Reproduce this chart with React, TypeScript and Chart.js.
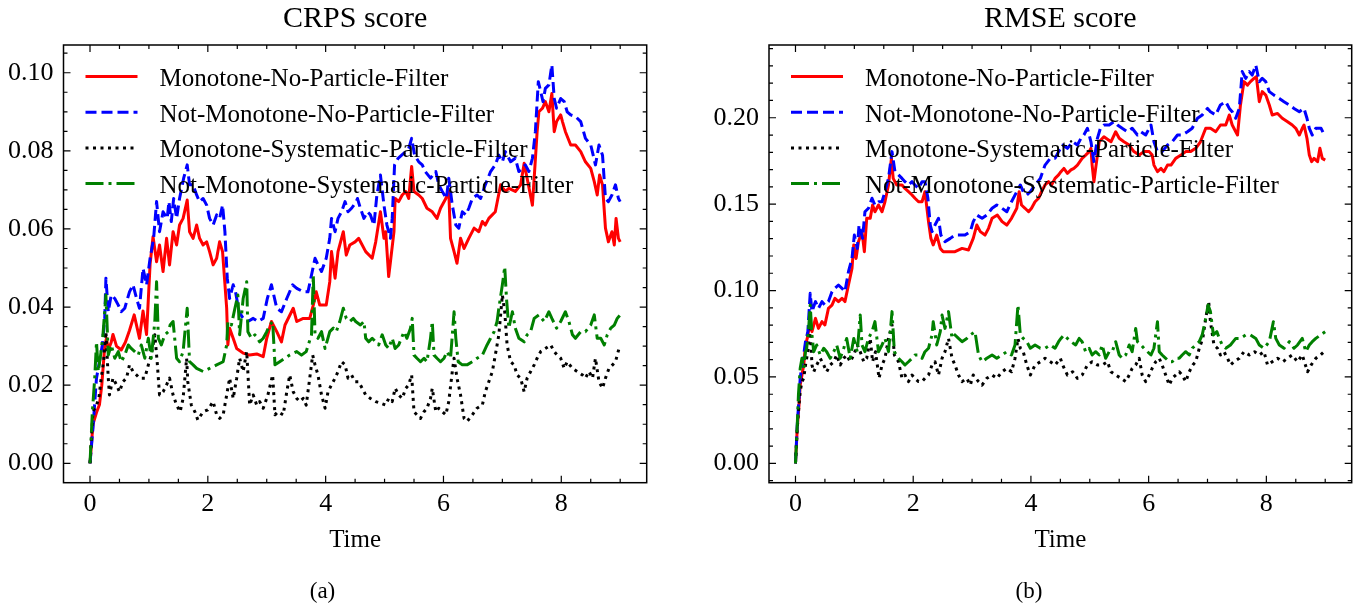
import React, { useEffect, useRef } from "react";
import { Chart, registerables } from "chart.js";

Chart.register(...registerables);

// ---------------- data ----------------
const seriesNames = [
  "Monotone-No-Particle-Filter",
  "Not-Monotone-No-Particle-Filter",
  "Monotone-Systematic-Particle-Filter",
  "Not-Monotone-Systematic-Particle-Filter",
];
const seriesColors = ["#ff0000", "#0000ff", "#000000", "#008000"];

const timeTicks = [0, 2, 4, 6, 8];
const crpsTicks = [0, 0.02, 0.04, 0.06, 0.08, 0.1];
const rmseTicks = [0, 0.05, 0.1, 0.15, 0.2];

// CRPS score series: [time, value]
const crpsMonoNoPF: number[][] = [
  [0,0],[0.05,0.010],[0.11,0.013],[0.16,0.015],[0.20,0.020],[0.25,0.030],[0.28,0.032],[0.31,0.029],[0.36,0.031],[0.39,0.033],[0.45,0.030],[0.53,0.029],[0.60,0.031],[0.67,0.034],[0.75,0.038],[0.84,0.032],[0.90,0.039],[0.96,0.033],[1.02,0.051],[1.07,0.058],[1.13,0.0516],[1.18,0.0559],[1.24,0.0491],[1.30,0.0576],[1.35,0.0508],[1.41,0.0593],[1.47,0.0559],[1.52,0.0610],[1.58,0.0627],[1.65,0.0674],[1.69,0.0593],[1.75,0.0576],[1.81,0.0610],[1.86,0.0576],[1.92,0.0559],[1.98,0.0567],[2.03,0.0542],[2.09,0.0508],[2.15,0.0525],[2.20,0.0567],[2.25,0.0542],[2.32,0.0397],[2.34,0.0303],[2.37,0.0346],[2.43,0.0320],[2.49,0.0294],[2.60,0.0282],[2.71,0.0277],[2.83,0.0280],[2.94,0.0273],[3.00,0.0320],[3.08,0.0363],[3.17,0.0337],[3.25,0.0311],[3.31,0.0354],[3.45,0.0397],[3.51,0.0363],[3.62,0.0371],[3.73,0.0371],[3.79,0.0405],[3.84,0.0439],[3.90,0.0405],[4.01,0.0405],[4.07,0.0465],[4.10,0.0542],[4.16,0.0474],[4.21,0.0542],[4.30,0.0593],[4.35,0.0533],[4.41,0.0559],[4.50,0.0567],[4.56,0.0576],[4.68,0.0542],[4.79,0.0525],[4.85,0.0567],[4.93,0.0644],[4.99,0.0576],[5.02,0.0593],[5.07,0.0478],[5.10,0.0516],[5.16,0.0593],[5.18,0.0678],[5.24,0.0670],[5.30,0.0687],[5.36,0.0696],[5.41,0.0678],[5.46,0.0760],[5.50,0.0696],[5.58,0.0687],[5.64,0.0678],[5.72,0.0653],[5.81,0.0644],[5.89,0.0627],[5.95,0.0653],[6.04,0.0678],[6.09,0.0696],[6.12,0.0576],[6.18,0.0542],[6.23,0.0512],[6.29,0.0576],[6.35,0.0550],[6.43,0.0576],[6.52,0.0602],[6.60,0.0593],[6.66,0.0619],[6.71,0.0610],[6.77,0.0627],[6.88,0.0644],[6.97,0.0713],[7.05,0.0696],[7.11,0.0704],[7.22,0.0696],[7.31,0.0713],[7.37,0.0768],[7.42,0.0730],[7.51,0.0661],[7.54,0.0730],[7.59,0.0849],[7.62,0.0900],[7.68,0.0909],[7.73,0.0926],[7.79,0.0900],[7.84,0.0947],[7.88,0.0849],[7.92,0.0875],[7.99,0.0892],[8.02,0.0875],[8.07,0.0849],[8.16,0.0815],[8.24,0.0815],[8.33,0.0798],[8.41,0.0772],[8.50,0.0755],[8.56,0.0721],[8.61,0.0687],[8.65,0.0738],[8.70,0.0713],[8.75,0.0602],[8.80,0.0567],[8.86,0.0593],[8.90,0.0559],[8.93,0.0627],[8.97,0.0576],[9.00,0.0567],
];
const crpsNotMonoNoPF: number[][] = [
  [0,0],[0.05,0.009],[0.11,0.0218],[0.16,0.0260],[0.21,0.0303],[0.25,0.0371],[0.27,0.0474],[0.31,0.0388],[0.36,0.0431],[0.42,0.0422],[0.48,0.0405],[0.53,0.0388],[0.59,0.0397],[0.67,0.0439],[0.73,0.0457],[0.79,0.0422],[0.84,0.0397],[0.90,0.0499],[0.96,0.0457],[1.02,0.0525],[1.08,0.0576],[1.13,0.0670],[1.18,0.0593],[1.24,0.0644],[1.31,0.0627],[1.34,0.0670],[1.38,0.0619],[1.42,0.0678],[1.47,0.0627],[1.52,0.0678],[1.59,0.0730],[1.65,0.0764],[1.69,0.0713],[1.75,0.0713],[1.81,0.0687],[1.86,0.0670],[1.92,0.0678],[1.98,0.0661],[2.03,0.0627],[2.09,0.0610],[2.15,0.0636],[2.20,0.0627],[2.25,0.0661],[2.29,0.0593],[2.33,0.0474],[2.37,0.0422],[2.43,0.0457],[2.47,0.0439],[2.53,0.0388],[2.60,0.0371],[2.68,0.0363],[2.77,0.0371],[2.85,0.0363],[2.94,0.0371],[3.01,0.0422],[3.08,0.0457],[3.17,0.0397],[3.25,0.0388],[3.34,0.0422],[3.44,0.0457],[3.51,0.0448],[3.62,0.0439],[3.70,0.0439],[3.76,0.0482],[3.82,0.0525],[3.87,0.0508],[3.93,0.0491],[4.01,0.0525],[4.07,0.0576],[4.10,0.0627],[4.16,0.0593],[4.21,0.0627],[4.27,0.0644],[4.33,0.0670],[4.38,0.0644],[4.44,0.0653],[4.52,0.0670],[4.54,0.0678],[4.59,0.0653],[4.65,0.0627],[4.71,0.0644],[4.76,0.0636],[4.82,0.0610],[4.87,0.0687],[4.93,0.0738],[4.99,0.0661],[5.04,0.0610],[5.10,0.0576],[5.13,0.0627],[5.17,0.0764],[5.23,0.0781],[5.29,0.0789],[5.36,0.0798],[5.41,0.0806],[5.46,0.0832],[5.51,0.0789],[5.58,0.0772],[5.64,0.0764],[5.69,0.0747],[5.78,0.0730],[5.87,0.0747],[5.92,0.0713],[5.98,0.0696],[6.05,0.0678],[6.09,0.0730],[6.15,0.0661],[6.21,0.0610],[6.26,0.0602],[6.32,0.0644],[6.38,0.0636],[6.43,0.0653],[6.49,0.0678],[6.57,0.0687],[6.63,0.0678],[6.71,0.0713],[6.80,0.0747],[6.88,0.0764],[6.94,0.0789],[7.00,0.0772],[7.05,0.0798],[7.14,0.0772],[7.22,0.0781],[7.28,0.0747],[7.34,0.0755],[7.39,0.0764],[7.45,0.0747],[7.51,0.0781],[7.56,0.0849],[7.61,0.0977],[7.65,0.0952],[7.69,0.0926],[7.73,0.0960],[7.79,0.0969],[7.84,0.1020],[7.88,0.0934],[7.92,0.0909],[7.99,0.0934],[8.05,0.0926],[8.10,0.0900],[8.16,0.0892],[8.24,0.0888],[8.33,0.0875],[8.41,0.0832],[8.50,0.0815],[8.58,0.0764],[8.64,0.0815],[8.70,0.0789],[8.75,0.0678],[8.80,0.0670],[8.86,0.0687],[8.92,0.0713],[8.97,0.0678],[9.00,0.0670],
];
const crpsMonoSPF: number[][] = [
  [0,0],[0.05,0.0132],[0.11,0.0149],[0.15,0.0166],[0.19,0.0218],[0.23,0.0260],[0.27,0.0337],[0.31,0.0218],[0.33,0.0175],[0.39,0.0218],[0.45,0.0201],[0.50,0.0183],[0.56,0.0209],[0.62,0.0218],[0.67,0.0252],[0.73,0.0235],[0.79,0.0226],[0.84,0.0218],[0.93,0.0218],[0.99,0.0252],[1.04,0.0277],[1.10,0.0329],[1.14,0.0260],[1.18,0.0175],[1.24,0.0183],[1.30,0.0201],[1.35,0.0218],[1.41,0.0175],[1.47,0.0149],[1.53,0.0132],[1.58,0.0166],[1.64,0.0269],[1.66,0.0209],[1.72,0.0149],[1.78,0.0132],[1.83,0.0111],[1.92,0.0132],[2.00,0.0137],[2.09,0.0158],[2.15,0.0124],[2.20,0.0115],[2.26,0.0124],[2.32,0.0175],[2.37,0.0218],[2.43,0.0166],[2.49,0.0218],[2.54,0.0269],[2.60,0.0235],[2.66,0.0286],[2.71,0.0149],[2.77,0.0175],[2.83,0.0149],[2.88,0.0158],[2.94,0.0141],[3.02,0.0175],[3.10,0.0226],[3.14,0.0124],[3.19,0.0132],[3.28,0.0124],[3.34,0.0183],[3.39,0.0226],[3.45,0.0183],[3.51,0.0166],[3.56,0.0158],[3.62,0.0166],[3.67,0.0149],[3.73,0.0218],[3.78,0.0277],[3.82,0.0252],[3.87,0.0226],[3.93,0.0175],[3.99,0.0141],[4.04,0.0183],[4.10,0.0201],[4.16,0.0218],[4.21,0.0235],[4.27,0.0260],[4.33,0.0252],[4.38,0.0218],[4.44,0.0226],[4.50,0.0209],[4.56,0.0209],[4.62,0.0192],[4.68,0.0175],[4.76,0.0166],[4.85,0.0158],[4.93,0.0154],[5.02,0.0149],[5.07,0.0166],[5.13,0.0158],[5.18,0.0192],[5.24,0.0175],[5.30,0.0166],[5.36,0.0192],[5.41,0.0201],[5.46,0.0226],[5.50,0.0132],[5.55,0.0124],[5.61,0.0115],[5.67,0.0132],[5.72,0.0141],[5.78,0.0166],[5.81,0.0192],[5.87,0.0132],[5.92,0.0141],[5.98,0.0132],[6.04,0.0124],[6.09,0.0158],[6.15,0.0235],[6.18,0.0269],[6.23,0.0218],[6.29,0.0175],[6.35,0.0115],[6.40,0.0107],[6.49,0.0124],[6.57,0.0141],[6.66,0.0149],[6.71,0.0183],[6.77,0.0209],[6.83,0.0235],[6.88,0.0277],[6.94,0.0329],[7.00,0.0431],[7.04,0.0388],[7.08,0.0303],[7.14,0.0260],[7.20,0.0252],[7.25,0.0226],[7.31,0.0218],[7.37,0.0183],[7.42,0.0218],[7.48,0.0235],[7.54,0.0252],[7.59,0.0269],[7.65,0.0286],[7.73,0.0294],[7.82,0.0303],[7.88,0.0286],[7.93,0.0277],[7.99,0.0269],[8.05,0.0243],[8.10,0.0260],[8.19,0.0243],[8.27,0.0235],[8.36,0.0226],[8.41,0.0218],[8.47,0.0235],[8.53,0.0218],[8.58,0.0269],[8.64,0.0209],[8.70,0.0192],[8.75,0.0218],[8.81,0.0243],[8.87,0.0252],[8.92,0.0260],[8.98,0.0294],
];
const crpsNotMonoSPF: number[][] = [
  [0,0],[0.04,0.0132],[0.08,0.0218],[0.11,0.0311],[0.14,0.0235],[0.18,0.0277],[0.22,0.0329],[0.27,0.0431],[0.31,0.0277],[0.36,0.0303],[0.42,0.0269],[0.48,0.0286],[0.53,0.0260],[0.59,0.0277],[0.65,0.0303],[0.70,0.0294],[0.76,0.0286],[0.82,0.0277],[0.87,0.0303],[0.93,0.0269],[0.99,0.0320],[1.04,0.0269],[1.10,0.0363],[1.13,0.0465],[1.16,0.0320],[1.21,0.0303],[1.27,0.0329],[1.33,0.0337],[1.36,0.0354],[1.41,0.0363],[1.47,0.0269],[1.52,0.0260],[1.58,0.0286],[1.65,0.0397],[1.69,0.0260],[1.75,0.0252],[1.81,0.0243],[1.92,0.0235],[2.03,0.0243],[2.15,0.0252],[2.26,0.0260],[2.32,0.0303],[2.34,0.0363],[2.40,0.0354],[2.46,0.0397],[2.51,0.0431],[2.54,0.0329],[2.60,0.0422],[2.66,0.0465],[2.68,0.0337],[2.74,0.0320],[2.80,0.0329],[2.88,0.0311],[2.94,0.0320],[3.00,0.0337],[3.05,0.0354],[3.10,0.0363],[3.14,0.0252],[3.22,0.0260],[3.31,0.0269],[3.39,0.0277],[3.51,0.0286],[3.59,0.0277],[3.67,0.0286],[3.76,0.0329],[3.79,0.0482],[3.82,0.0329],[3.87,0.0320],[3.93,0.0337],[3.99,0.0294],[4.07,0.0337],[4.13,0.0346],[4.18,0.0337],[4.24,0.0363],[4.30,0.0397],[4.35,0.0371],[4.41,0.0363],[4.47,0.0371],[4.51,0.0363],[4.59,0.0354],[4.65,0.0363],[4.68,0.0320],[4.73,0.0311],[4.79,0.0320],[4.85,0.0311],[4.90,0.0303],[4.96,0.0329],[5.02,0.0303],[5.07,0.0294],[5.13,0.0320],[5.18,0.0294],[5.24,0.0303],[5.33,0.0337],[5.38,0.0320],[5.44,0.0346],[5.47,0.0371],[5.50,0.0277],[5.55,0.0269],[5.61,0.0260],[5.67,0.0269],[5.72,0.0260],[5.78,0.0320],[5.81,0.0363],[5.84,0.0277],[5.89,0.0269],[5.95,0.0260],[6.01,0.0269],[6.06,0.0286],[6.12,0.0269],[6.18,0.0388],[6.21,0.0320],[6.25,0.0260],[6.32,0.0252],[6.40,0.0252],[6.49,0.0260],[6.57,0.0269],[6.66,0.0277],[6.74,0.0303],[6.80,0.0320],[6.86,0.0337],[6.91,0.0363],[6.94,0.0397],[7.00,0.0457],[7.04,0.0503],[7.07,0.0422],[7.11,0.0346],[7.17,0.0388],[7.22,0.0346],[7.28,0.0320],[7.37,0.0311],[7.42,0.0329],[7.48,0.0337],[7.54,0.0371],[7.62,0.0380],[7.71,0.0363],[7.79,0.0388],[7.84,0.0371],[7.92,0.0346],[7.99,0.0363],[8.07,0.0388],[8.13,0.0363],[8.19,0.0329],[8.24,0.0320],[8.33,0.0337],[8.41,0.0337],[8.50,0.0354],[8.56,0.0380],[8.61,0.0320],[8.67,0.0320],[8.73,0.0303],[8.78,0.0329],[8.84,0.0346],[8.90,0.0354],[8.95,0.0371],[9.00,0.0380],
];

// RMSE score series: [time, value]
const rmseMonoNoPF: number[][] = [
  [0,0],[0.03,0.0203],[0.06,0.0338],[0.08,0.0453],[0.11,0.0511],[0.14,0.0569],[0.17,0.0685],[0.20,0.0723],[0.22,0.0762],[0.25,0.0801],[0.28,0.0762],[0.34,0.0839],[0.39,0.0781],[0.45,0.0820],[0.50,0.0801],[0.56,0.0897],[0.62,0.0916],[0.67,0.0955],[0.73,0.0936],[0.79,0.0955],[0.84,0.0936],[0.90,0.1032],[0.96,0.1128],[0.99,0.1264],[1.03,0.1186],[1.07,0.1283],[1.13,0.1341],[1.17,0.1225],[1.21,0.1418],[1.27,0.1418],[1.31,0.1495],[1.35,0.1456],[1.41,0.1495],[1.47,0.1456],[1.52,0.1514],[1.58,0.1611],[1.63,0.1765],[1.66,0.1649],[1.72,0.1611],[1.81,0.1611],[1.86,0.1591],[1.92,0.1572],[1.98,0.1553],[2.03,0.1534],[2.09,0.1514],[2.15,0.1514],[2.20,0.1572],[2.26,0.1399],[2.30,0.1302],[2.34,0.1264],[2.40,0.1321],[2.46,0.1244],[2.51,0.1225],[2.60,0.1225],[2.71,0.1225],[2.83,0.1244],[2.94,0.1235],[3.02,0.1302],[3.08,0.1379],[3.14,0.1341],[3.22,0.1321],[3.28,0.1360],[3.34,0.1418],[3.43,0.1437],[3.51,0.1399],[3.59,0.1379],[3.67,0.1418],[3.76,0.1476],[3.80,0.1572],[3.84,0.1495],[3.90,0.1476],[3.96,0.1456],[4.01,0.1476],[4.07,0.1514],[4.13,0.1534],[4.18,0.1572],[4.24,0.1611],[4.30,0.1630],[4.35,0.1611],[4.41,0.1649],[4.47,0.1669],[4.51,0.1688],[4.56,0.1707],[4.62,0.1678],[4.68,0.1698],[4.73,0.1707],[4.79,0.1726],[4.87,0.1765],[4.93,0.1784],[4.99,0.1804],[5.02,0.1823],[5.04,0.1726],[5.07,0.1630],[5.10,0.1707],[5.16,0.1861],[5.24,0.1890],[5.36,0.1861],[5.44,0.1919],[5.50,0.1881],[5.58,0.1861],[5.67,0.1842],[5.75,0.1804],[5.84,0.1784],[5.92,0.1804],[6.01,0.1804],[6.06,0.1784],[6.09,0.1726],[6.15,0.1688],[6.21,0.1707],[6.26,0.1688],[6.32,0.1726],[6.38,0.1726],[6.46,0.1765],[6.55,0.1784],[6.63,0.1804],[6.71,0.1804],[6.80,0.1823],[6.88,0.1861],[6.97,0.1939],[7.05,0.1939],[7.14,0.1919],[7.22,0.1958],[7.31,0.1958],[7.37,0.2016],[7.42,0.1958],[7.48,0.1919],[7.51,0.1900],[7.56,0.2074],[7.62,0.2209],[7.68,0.2189],[7.73,0.2209],[7.79,0.2228],[7.83,0.2238],[7.88,0.2093],[7.93,0.2151],[7.99,0.2131],[8.05,0.2074],[8.10,0.2016],[8.19,0.2025],[8.27,0.1997],[8.36,0.1977],[8.44,0.1958],[8.50,0.1939],[8.56,0.1900],[8.61,0.1939],[8.64,0.1958],[8.69,0.1881],[8.73,0.1784],[8.77,0.1746],[8.81,0.1765],[8.87,0.1746],[8.91,0.1823],[8.95,0.1765],[9.00,0.1755],
];
const rmseNotMonoNoPF: number[][] = [
  [0,0],[0.03,0.0222],[0.06,0.0376],[0.08,0.0492],[0.11,0.0569],[0.14,0.0627],[0.17,0.0704],[0.21,0.0762],[0.25,0.0984],[0.28,0.0878],[0.34,0.0936],[0.39,0.0897],[0.45,0.0936],[0.50,0.0916],[0.56,0.0936],[0.62,0.0993],[0.67,0.1013],[0.73,0.1032],[0.79,0.1013],[0.84,0.0993],[0.90,0.1109],[0.96,0.1186],[1.00,0.1321],[1.05,0.1244],[1.08,0.1379],[1.14,0.1302],[1.18,0.1456],[1.24,0.1476],[1.30,0.1534],[1.35,0.1495],[1.41,0.1514],[1.47,0.1514],[1.52,0.1572],[1.58,0.1649],[1.64,0.1804],[1.69,0.1688],[1.75,0.1669],[1.81,0.1649],[1.86,0.1630],[1.92,0.1611],[1.98,0.1630],[2.03,0.1611],[2.09,0.1591],[2.15,0.1630],[2.20,0.1630],[2.25,0.1534],[2.29,0.1379],[2.32,0.1341],[2.37,0.1379],[2.43,0.1418],[2.47,0.1321],[2.54,0.1283],[2.63,0.1302],[2.71,0.1321],[2.80,0.1321],[2.88,0.1321],[2.97,0.1341],[3.02,0.1399],[3.08,0.1437],[3.17,0.1418],[3.25,0.1437],[3.34,0.1476],[3.42,0.1495],[3.51,0.1476],[3.59,0.1456],[3.67,0.1514],[3.76,0.1572],[3.82,0.1611],[3.87,0.1572],[3.93,0.1553],[3.99,0.1572],[4.07,0.1611],[4.16,0.1649],[4.24,0.1726],[4.33,0.1765],[4.41,0.1765],[4.47,0.1804],[4.54,0.1842],[4.62,0.1823],[4.71,0.1861],[4.79,0.1842],[4.85,0.1881],[4.90,0.1900],[4.96,0.1939],[5.02,0.1861],[5.07,0.1746],[5.13,0.1881],[5.18,0.1939],[5.24,0.1958],[5.33,0.1958],[5.41,0.1977],[5.47,0.1958],[5.55,0.1939],[5.64,0.1919],[5.72,0.1939],[5.81,0.1900],[5.87,0.1919],[5.95,0.1900],[6.04,0.1958],[6.09,0.1861],[6.15,0.1804],[6.23,0.1804],[6.32,0.1842],[6.40,0.1861],[6.49,0.1900],[6.57,0.1900],[6.66,0.1919],[6.74,0.1939],[6.83,0.1997],[6.91,0.2016],[7.00,0.2054],[7.05,0.2035],[7.14,0.2016],[7.22,0.2074],[7.31,0.2093],[7.37,0.2054],[7.42,0.2035],[7.48,0.1997],[7.54,0.2054],[7.59,0.2267],[7.65,0.2228],[7.71,0.2267],[7.76,0.2247],[7.82,0.2305],[7.88,0.2209],[7.93,0.2228],[7.99,0.2209],[8.05,0.2151],[8.13,0.2131],[8.22,0.2112],[8.30,0.2093],[8.39,0.2074],[8.47,0.2054],[8.56,0.2035],[8.64,0.2054],[8.69,0.1997],[8.73,0.1939],[8.78,0.1900],[8.84,0.1939],[8.90,0.1939],[8.93,0.1939],[8.97,0.1910],[9.00,0.1900],
];
const rmseMonoSPF: number[][] = [
  [0,0],[0.03,0.0203],[0.06,0.0338],[0.08,0.0415],[0.11,0.0473],[0.14,0.0492],[0.17,0.0569],[0.21,0.0646],[0.25,0.0781],[0.28,0.0569],[0.31,0.0530],[0.36,0.0569],[0.42,0.0608],[0.48,0.0569],[0.53,0.0530],[0.59,0.0569],[0.65,0.0588],[0.70,0.0627],[0.76,0.0569],[0.82,0.0608],[0.87,0.0627],[0.93,0.0588],[0.99,0.0627],[1.05,0.0685],[1.10,0.0646],[1.16,0.0588],[1.21,0.0608],[1.27,0.0723],[1.31,0.0588],[1.36,0.0646],[1.42,0.0492],[1.47,0.0569],[1.52,0.0608],[1.58,0.0723],[1.64,0.0801],[1.68,0.0627],[1.75,0.0588],[1.81,0.0492],[1.86,0.0511],[1.92,0.0473],[1.98,0.0511],[2.03,0.0492],[2.09,0.0473],[2.15,0.0473],[2.20,0.0492],[2.26,0.0511],[2.32,0.0569],[2.37,0.0588],[2.43,0.0511],[2.49,0.0608],[2.54,0.0646],[2.60,0.0723],[2.66,0.0608],[2.71,0.0569],[2.77,0.0511],[2.83,0.0473],[2.91,0.0492],[2.97,0.0453],[3.02,0.0511],[3.11,0.0473],[3.17,0.0453],[3.25,0.0492],[3.34,0.0511],[3.42,0.0492],[3.51,0.0530],[3.59,0.0550],[3.67,0.0530],[3.73,0.0608],[3.78,0.0723],[3.82,0.0666],[3.87,0.0646],[3.93,0.0569],[3.99,0.0511],[4.07,0.0569],[4.16,0.0588],[4.24,0.0608],[4.33,0.0588],[4.41,0.0569],[4.50,0.0608],[4.54,0.0569],[4.62,0.0511],[4.71,0.0530],[4.79,0.0492],[4.87,0.0511],[4.96,0.0569],[5.04,0.0588],[5.13,0.0569],[5.21,0.0569],[5.30,0.0588],[5.36,0.0530],[5.44,0.0511],[5.53,0.0492],[5.61,0.0473],[5.67,0.0511],[5.72,0.0550],[5.78,0.0569],[5.84,0.0608],[5.89,0.0511],[5.95,0.0473],[6.01,0.0511],[6.06,0.0550],[6.12,0.0588],[6.18,0.0608],[6.23,0.0569],[6.29,0.0511],[6.35,0.0453],[6.40,0.0492],[6.46,0.0511],[6.52,0.0530],[6.57,0.0511],[6.63,0.0473],[6.69,0.0530],[6.75,0.0569],[6.80,0.0588],[6.86,0.0666],[6.92,0.0723],[6.97,0.0839],[7.02,0.0936],[7.05,0.0820],[7.11,0.0685],[7.17,0.0666],[7.22,0.0627],[7.28,0.0646],[7.34,0.0608],[7.39,0.0569],[7.45,0.0588],[7.54,0.0608],[7.62,0.0646],[7.71,0.0627],[7.80,0.0646],[7.88,0.0627],[7.96,0.0646],[8.02,0.0569],[8.10,0.0588],[8.19,0.0608],[8.28,0.0588],[8.36,0.0608],[8.44,0.0627],[8.53,0.0588],[8.61,0.0627],[8.70,0.0530],[8.76,0.0569],[8.84,0.0608],[8.92,0.0627],[8.98,0.0646],
];
const rmseNotMonoSPF: number[][] = [
  [0,0],[0.03,0.0222],[0.05,0.0395],[0.08,0.0550],[0.11,0.0608],[0.14,0.0550],[0.17,0.0646],[0.19,0.0666],[0.22,0.0762],[0.25,0.0916],[0.28,0.0743],[0.31,0.0646],[0.36,0.0685],[0.42,0.0627],[0.48,0.0666],[0.53,0.0646],[0.59,0.0608],[0.65,0.0646],[0.70,0.0685],[0.76,0.0608],[0.82,0.0666],[0.87,0.0723],[0.93,0.0608],[0.99,0.0723],[1.05,0.0646],[1.10,0.0858],[1.13,0.0685],[1.18,0.0646],[1.24,0.0723],[1.30,0.0762],[1.35,0.0820],[1.41,0.0646],[1.47,0.0685],[1.52,0.0723],[1.58,0.0646],[1.64,0.0878],[1.68,0.0646],[1.75,0.0608],[1.81,0.0588],[1.86,0.0569],[1.92,0.0588],[1.98,0.0608],[2.03,0.0627],[2.09,0.0627],[2.15,0.0608],[2.20,0.0646],[2.26,0.0666],[2.32,0.0743],[2.34,0.0820],[2.40,0.0685],[2.46,0.0762],[2.49,0.0858],[2.54,0.0781],[2.60,0.0878],[2.66,0.0723],[2.71,0.0743],[2.77,0.0723],[2.83,0.0704],[2.91,0.0723],[2.97,0.0743],[3.05,0.0762],[3.11,0.0627],[3.17,0.0588],[3.25,0.0608],[3.34,0.0627],[3.42,0.0608],[3.51,0.0627],[3.59,0.0646],[3.67,0.0627],[3.73,0.0685],[3.78,0.0916],[3.82,0.0743],[3.87,0.0723],[3.93,0.0704],[3.99,0.0666],[4.07,0.0685],[4.16,0.0666],[4.24,0.0666],[4.33,0.0685],[4.41,0.0666],[4.47,0.0704],[4.51,0.0723],[4.56,0.0743],[4.62,0.0723],[4.68,0.0704],[4.76,0.0685],[4.82,0.0723],[4.87,0.0704],[4.93,0.0646],[4.99,0.0666],[5.04,0.0627],[5.10,0.0646],[5.16,0.0627],[5.21,0.0685],[5.27,0.0608],[5.33,0.0646],[5.38,0.0646],[5.44,0.0704],[5.50,0.0627],[5.55,0.0608],[5.61,0.0627],[5.67,0.0685],[5.72,0.0646],[5.78,0.0781],[5.81,0.0704],[5.87,0.0685],[5.92,0.0666],[5.98,0.0646],[6.04,0.0627],[6.09,0.0666],[6.15,0.0820],[6.18,0.0646],[6.23,0.0627],[6.29,0.0608],[6.35,0.0588],[6.40,0.0588],[6.46,0.0608],[6.52,0.0608],[6.57,0.0627],[6.63,0.0646],[6.69,0.0627],[6.74,0.0666],[6.80,0.0685],[6.86,0.0704],[6.91,0.0743],[6.97,0.0839],[7.01,0.0916],[7.05,0.0878],[7.10,0.0743],[7.16,0.0762],[7.20,0.0723],[7.25,0.0685],[7.31,0.0666],[7.39,0.0685],[7.48,0.0723],[7.56,0.0723],[7.65,0.0743],[7.73,0.0743],[7.82,0.0723],[7.88,0.0685],[7.96,0.0666],[8.05,0.0704],[8.12,0.0820],[8.16,0.0723],[8.22,0.0685],[8.30,0.0666],[8.39,0.0704],[8.47,0.0666],[8.53,0.0685],[8.61,0.0723],[8.67,0.0646],[8.73,0.0685],[8.78,0.0704],[8.84,0.0723],[8.92,0.0743],[9.00,0.0762],
];

// ---------------- styling ----------------
const FONT = "'Liberation Serif', 'Times New Roman', serif";
const LINE_W = 3;
const seriesDashes = [[], [11, 5], [3, 4.5], [18, 5, 3, 5]];

type Panel = {
  title: string;
  caption: string;
  captionX: number;
  yTicks: number[];
  yMin: number;
  yMax: number;
  yMinorStep: number;
  series: number[][][];
  yAxisWidth: number;
  padRight: number;
  canvasWidth: number;
};

const X_MIN = -0.45;
const X_MAX = 9.45;

function decorPlugin(p: Panel) {
  return {
    id: "decor",
    afterDatasetsDraw(chart: any) {
      const { ctx, chartArea: a, scales } = chart;
      const xs = scales.x;
      const ys = scales.y;
      ctx.save();
      // frame
      ctx.strokeStyle = "#000";
      ctx.lineWidth = 1.5;
      ctx.setLineDash([]);
      ctx.strokeRect(a.left, a.top, a.right - a.left, a.bottom - a.top);
      // ticks (inward, all four sides)
      ctx.lineWidth = 1.2;
      const MAJ = 7;
      const MIN = 4;
      const eps = 1e-9;
      ctx.beginPath();
      for (let v = Math.ceil(X_MIN / 0.5) * 0.5; v <= X_MAX + eps; v += 0.5) {
        const px = xs.getPixelForValue(v);
        const isMajor = timeTicks.some((t) => Math.abs(t - v) < 1e-6);
        const len = isMajor ? MAJ : MIN;
        ctx.moveTo(px, a.bottom);
        ctx.lineTo(px, a.bottom - len);
        ctx.moveTo(px, a.top);
        ctx.lineTo(px, a.top + len);
      }
      const yLo = Math.ceil((p.yMin + eps) / p.yMinorStep);
      const yHi = Math.floor((p.yMax - eps) / p.yMinorStep);
      for (let k = yLo; k <= yHi; k++) {
        const v = k * p.yMinorStep;
        const py = ys.getPixelForValue(v);
        if (py > a.bottom - 0.5 || py < a.top + 0.5) continue;
        const isMajor = p.yTicks.some((t) => Math.abs(t - v) < 1e-6);
        const len = isMajor ? MAJ : MIN;
        ctx.moveTo(a.left, py);
        ctx.lineTo(a.left + len, py);
        ctx.moveTo(a.right, py);
        ctx.lineTo(a.right - len, py);
      }
      ctx.stroke();

      // legend
      const rowY0 = a.top + 31.5;
      const rowDy = 35.7;
      ctx.font = `25px ${FONT}`;
      ctx.textAlign = "left";
      ctx.textBaseline = "alphabetic";
      seriesNames.forEach((name, i) => {
        const y = rowY0 + i * rowDy;
        ctx.strokeStyle = seriesColors[i];
        ctx.lineWidth = LINE_W;
        ctx.lineCap = "butt";
        ctx.setLineDash(seriesDashes[i]);
        ctx.beginPath();
        ctx.moveTo(a.left + 22, y);
        ctx.lineTo(a.left + 74, y);
        ctx.stroke();
        ctx.setLineDash([]);
        ctx.fillStyle = "#000";
        ctx.fillText(name, a.left + 96, y + 9.5);
      });

      // title, axis label, caption
      const cx = (a.left + a.right) / 2;
      ctx.fillStyle = "#000";
      ctx.textAlign = "center";
      ctx.font = `30px ${FONT}`;
      ctx.fillText(p.title, cx, 27);
      ctx.font = `25px ${FONT}`;
      ctx.fillText("Time", cx, 547);
      ctx.font = `23px ${FONT}`;
      ctx.fillText(p.caption, p.captionX, 598);
      ctx.restore();
    },
  };
}

function makeConfig(p: Panel): any {
  return {
    type: "line",
    data: {
      datasets: p.series.map((s, i) => ({
        label: seriesNames[i],
        data: s.map(([t, v]) => ({ x: t, y: v })),
        borderColor: seriesColors[i],
        backgroundColor: seriesColors[i],
        borderWidth: LINE_W,
        borderDash: seriesDashes[i],
        borderCapStyle: "butt",
        borderJoinStyle: "round",
        pointRadius: 0,
        tension: 0,
        fill: false,
        order: 4 - i,
      })),
    },
    options: {
      animation: false,
      responsive: false,
      maintainAspectRatio: false,
      devicePixelRatio: 1,
      layout: { padding: { left: 0, right: p.padRight, top: 45, bottom: 0 } },
      plugins: { legend: { display: false }, tooltip: { enabled: false }, title: { display: false } },
      scales: {
        x: {
          type: "linear",
          min: X_MIN,
          max: X_MAX,
          grid: { display: false, drawTicks: false },
          border: { display: false },
          afterBuildTicks: (scale: any) => {
            scale.ticks = timeTicks.map((v) => ({ value: v }));
          },
          afterFit: (scale: any) => {
            scale.height = 606 - 482.7;
          },
          ticks: {
            autoSkip: false,
            maxRotation: 0,
            padding: 6,
            color: "#000",
            font: { family: FONT, size: 26 },
            callback: (v: number) => String(v),
          },
        },
        y: {
          type: "linear",
          min: p.yMin,
          max: p.yMax,
          grid: { display: false, drawTicks: false },
          border: { display: false },
          afterBuildTicks: (scale: any) => {
            scale.ticks = p.yTicks.map((v) => ({ value: v }));
          },
          afterFit: (scale: any) => {
            scale.width = p.yAxisWidth;
          },
          ticks: {
            padding: 10,
            color: "#000",
            font: { family: FONT, size: 26 },
            callback: (v: number) => Number(v).toFixed(2),
          },
        },
      },
    },
    plugins: [decorPlugin(p)],
  };
}

const crpsPanel: Panel = {
  title: "CRPS score",
  caption: "(a)",
  captionX: 322.5,
  yTicks: crpsTicks,
  yMin: -0.00497,
  yMax: 0.1071,
  yMinorStep: 0.005,
  series: [crpsMonoNoPF, crpsNotMonoNoPF, crpsMonoSPF, crpsNotMonoSPF],
  yAxisWidth: 63.5,
  padRight: 684 - 646.7,
  canvasWidth: 684,
};

const rmsePanel: Panel = {
  title: "RMSE score",
  caption: "(b)",
  captionX: 1029 - 684,
  yTicks: rmseTicks,
  yMin: -0.0112,
  yMax: 0.2421,
  yMinorStep: 0.01,
  series: [rmseMonoNoPF, rmseNotMonoNoPF, rmseMonoSPF, rmseNotMonoSPF],
  yAxisWidth: 85,
  padRight: 685 - 667.7,
  canvasWidth: 685,
};

export default function App() {
  const leftRef = useRef<HTMLCanvasElement | null>(null);
  const rightRef = useRef<HTMLCanvasElement | null>(null);

  useEffect(() => {
    const charts: Chart[] = [];
    if (leftRef.current) charts.push(new Chart(leftRef.current, makeConfig(crpsPanel)));
    if (rightRef.current) charts.push(new Chart(rightRef.current, makeConfig(rmsePanel)));
    return () => charts.forEach((c) => c.destroy());
  }, []);

  return (
    <div
      style={{
        position: "absolute",
        left: 0,
        top: 0,
        width: 1369,
        height: 606,
        background: "#fff",
        overflow: "hidden",
      }}
    >
      <canvas
        ref={leftRef}
        width={684}
        height={606}
        style={{ position: "absolute", left: 0, top: 0, width: 684, height: 606 }}
      />
      <canvas
        ref={rightRef}
        width={685}
        height={606}
        style={{ position: "absolute", left: 684, top: 0, width: 685, height: 606 }}
      />
    </div>
  );
}
